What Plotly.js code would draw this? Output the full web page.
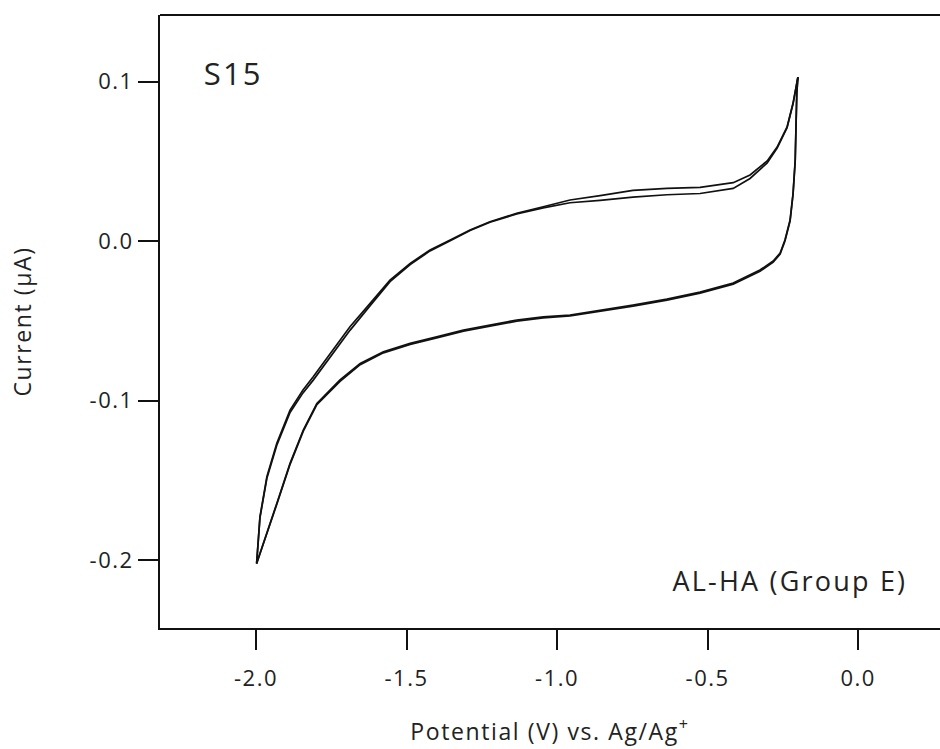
<!DOCTYPE html>
<html>
<head>
<meta charset="utf-8">
<script src="https://cdn.plot.ly/plotly-3.0.1.min.js"></script>
<style>
html,body{margin:0;padding:0;background:#fff;}
#chart{width:940px;height:749px;}
#chart .xtick text, #chart .ytick text{letter-spacing:1.5px;}
#chart text.xtitle, #chart text.ytitle{letter-spacing:1.6px;}
#chart .annotation-text{letter-spacing:2.2px;}
</style>
</head>
<body>
<div id="chart"></div>
<script>
// Forward (anodic) sweep: -2.0 V -> -0.2 V
const potentialFwd = [-1.998, -1.987, -1.964, -1.931, -1.887, -1.844, -1.810, -1.754, -1.688, -1.621, -1.555, -1.488, -1.422, -1.355, -1.289, -1.223, -1.134, -1.046, -0.957, -0.857, -0.748, -0.635, -0.525, -0.415, -0.359, -0.302, -0.269, -0.236, -0.216, -0.200];
const currentFwdCycle1 = [-0.2021, -0.1729, -0.1478, -0.1268, -0.1060, -0.0934, -0.0851, -0.0704, -0.0537, -0.0391, -0.0245, -0.0140, -0.0056, 0.0006, 0.0069, 0.0121, 0.0174, 0.0215, 0.0257, 0.0285, 0.0318, 0.0330, 0.0336, 0.0366, 0.0414, 0.0502, 0.0589, 0.0715, 0.0865, 0.1028];
const currentFwdCycle2 = [-0.2021, -0.1735, -0.1488, -0.1280, -0.1075, -0.0952, -0.0872, -0.0728, -0.0560, -0.0405, -0.0255, -0.0148, -0.0062, 0.0002, 0.0066, 0.0118, 0.0170, 0.0208, 0.0240, 0.0255, 0.0275, 0.0290, 0.0298, 0.0330, 0.0392, 0.0490, 0.0582, 0.0710, 0.0862, 0.1028];

// Reverse (cathodic) sweep: -0.2 V -> -2.0 V
const potentialRev = [-0.200, -0.2037, -0.209, -0.216, -0.226, -0.243, -0.259, -0.282, -0.326, -0.415, -0.525, -0.635, -0.748, -0.857, -0.957, -1.046, -1.134, -1.223, -1.311, -1.400, -1.488, -1.577, -1.654, -1.721, -1.798, -1.843, -1.887, -1.931, -1.976, -1.998];
const currentRevCycle1 = [0.1028, 0.0928, 0.0508, 0.0301, 0.0132, 0.0006, -0.0075, -0.0125, -0.0182, -0.0263, -0.0320, -0.0364, -0.0401, -0.0433, -0.0464, -0.0475, -0.0495, -0.0527, -0.0558, -0.0600, -0.0641, -0.0694, -0.0767, -0.0871, -0.1018, -0.1185, -0.1394, -0.1645, -0.1895, -0.2021];
const currentRevCycle2 = [0.1028, 0.0925, 0.0500, 0.0295, 0.0125, 0.0000, -0.0082, -0.0132, -0.0190, -0.0270, -0.0327, -0.0371, -0.0408, -0.0440, -0.0470, -0.0482, -0.0502, -0.0534, -0.0565, -0.0607, -0.0648, -0.0701, -0.0775, -0.0880, -0.1025, -0.1192, -0.1400, -0.1650, -0.1898, -0.2021];

const xTickVals = [-2.0, -1.5, -1.0, -0.5, 0.0];
const xTickText = ['-2.0', '-1.5', '-1.0', '-0.5', '0.0'];
const yTickVals = [-0.2, -0.1, 0.0, 0.1];
const yTickText = ['-0.2', '-0.1', '0.0', '0.1'];

const lineStyle = {color: '#111', width: 1.7};
const traces = [
  {x: potentialFwd, y: currentFwdCycle1, mode: 'lines', line: lineStyle, hoverinfo: 'skip'},
  {x: potentialRev, y: currentRevCycle1, mode: 'lines', line: lineStyle, hoverinfo: 'skip'},
  {x: potentialFwd, y: currentFwdCycle2, mode: 'lines', line: lineStyle, hoverinfo: 'skip'},
  {x: potentialRev, y: currentRevCycle2, mode: 'lines', line: lineStyle, hoverinfo: 'skip'}
];

const fam = '"Open Sans", "Noto Sans", sans-serif';
const layout = {
  width: 940, height: 749,
  margin: {l: 160, r: 0, t: 15, b: 121},
  paper_bgcolor: '#fff', plot_bgcolor: '#fff',
  showlegend: false,
  font: {family: fam, color: '#222'},
  xaxis: {
    range: [-2.319, 0.272], showgrid: false, zeroline: false,
    showline: true, linecolor: '#111', linewidth: 2,
    ticks: 'outside', ticklen: 20, tickwidth: 2, tickcolor: '#111',
    tickvals: xTickVals, ticktext: xTickText, ticklabelstandoff: 10,
    tickfont: {family: fam, size: 22, color: '#222'},
    title: {text: 'Potential (V) vs. Ag/Ag<sup>+</sup>', font: {family: fam, size: 23, color: '#222'}, standoff: 32}
  },
  yaxis: {
    range: [-0.2426, 0.1417], showgrid: false, zeroline: false,
    showline: true, linecolor: '#111', linewidth: 2,
    ticks: 'outside', ticklen: 20, tickwidth: 2, tickcolor: '#111',
    tickvals: yTickVals, ticktext: yTickText,
    tickfont: {family: fam, size: 22, color: '#222'},
    title: {text: 'Current (μA)', font: {family: fam, size: 23, color: '#222'}, standoff: 58}
  },
  shapes: [
    {type: 'line', xref: 'paper', yref: 'paper', x0: 0, x1: 1, y0: 1, y1: 1, line: {color: '#111', width: 2}}
  ],
  annotations: [
    {text: 'S15', xref: 'paper', yref: 'paper', x: 0.0577, y: 0.905, xanchor: 'left', yanchor: 'middle', showarrow: false, font: {family: fam, size: 31, color: '#222'}},
    {text: 'AL-HA (Group E)', xref: 'paper', yref: 'paper', x: 0.94, y: 0.078, xanchor: 'right', yanchor: 'middle', showarrow: false, font: {family: fam, size: 27, color: '#222'}}
  ]
};

Plotly.newPlot('chart', traces, layout, {displayModeBar: false, staticPlot: true});
</script>
</body>
</html>
